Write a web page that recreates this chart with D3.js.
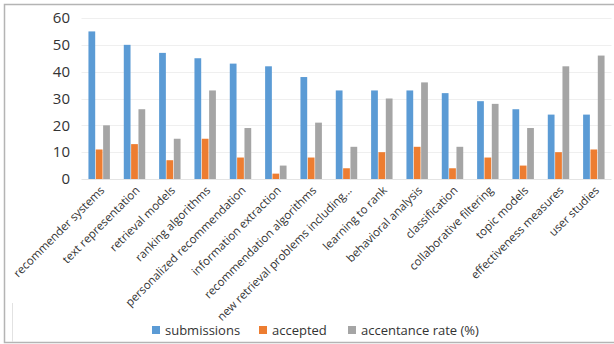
<!DOCTYPE html>
<html>
<head>
<meta charset="utf-8">
<script src="https://cdn.jsdelivr.net/npm/d3@7"></script>
<style>
  html, body { margin: 0; padding: 0; background: #fff; }
  svg { display: block; font-family: "Open Sans", "Noto Sans", sans-serif; }
</style>
</head>
<body>
<svg id="chart" width="614" height="344"></svg>
<script>
// Topic statistics: submissions, accepted papers and acceptance rate per topic
const categories = [
  "recommender systems", "text representation", "retrieval models",
  "ranking algorithms", "personalized recommendation", "information extraction",
  "recommendation algorithms", "new retrieval problems including...",
  "learning to rank", "behavioral analysis", "classification",
  "collaborative filtering", "topic models", "effectiveness measures", "user studies"
];
const submissions = [55, 50, 47, 45, 43, 42, 38, 33, 33, 33, 32, 29, 26, 24, 24];
const accepted    = [11, 13, 7, 15, 8, 2, 8, 4, 10, 12, 4, 8, 5, 10, 11];
const acceptRate  = [20, 26, 15, 33, 19, 5, 21, 12, 30, 36, 12, 28, 19, 42, 46];
const seriesNames = ["submissions", "accepted", "accentance rate (%)"];
const seriesColors = ["#5b9bd5", "#ed7d31", "#a5a5a5"];
const yTicks = [0, 10, 20, 30, 40, 50, 60];

const seriesValues = [submissions, accepted, acceptRate];
const svg = d3.select("#chart");

// Outer frame
svg.append("path")
  .attr("d", "M614,4.5 H4.5 V342.5 H614")
  .attr("fill", "none").attr("stroke", "#b4b4b4").attr("stroke-width", 1.5);
svg.append("line")
  .attr("x1", 12.5).attr("x2", 12.5).attr("y1", 303).attr("y2", 342)
  .attr("stroke", "#e2e2e2").attr("stroke-width", 1);

const plot = { left: 81.5, right: 611.5, top: 18, bottom: 179 };

const x0 = d3.scaleBand().domain(categories)
  .range([plot.left, plot.right]).paddingInner(0.36).paddingOuter(0.18);
const x1 = d3.scaleBand().domain(d3.range(seriesNames.length))
  .range([0, x0.bandwidth()]).padding(0.08);
const y = d3.scaleLinear().domain([0, 60]).range([plot.bottom, plot.top]);

// Gridlines
svg.append("g").selectAll("line").data(yTicks).join("line")
  .attr("x1", plot.left).attr("x2", plot.right)
  .attr("y1", d => Math.round(y(d)) + 0.5).attr("y2", d => Math.round(y(d)) + 0.5)
  .attr("stroke", d => d === 0 ? "#e4e4e4" : "#efefef").attr("stroke-width", 1);

// Y axis labels
const yAxis = d3.axisLeft(y).tickValues(yTicks).tickSize(0).tickPadding(0);
const gy = svg.append("g").attr("transform", "translate(70,0)").call(yAxis);
gy.select(".domain").remove();
gy.selectAll("text").attr("font-size", 15).attr("fill", "#333")
  .attr("font-family", "Open Sans, sans-serif");

// Bars
const groups = svg.append("g").selectAll("g").data(categories).join("g")
  .attr("transform", d => `translate(${x0(d)},0)`);
groups.selectAll("rect")
  .data((d, i) => seriesValues.map((vals, s) => ({ s, v: vals[i] })))
  .join("rect")
  .attr("x", d => x1(d.s))
  .attr("width", x1.bandwidth())
  .attr("y", d => y(d.v))
  .attr("height", d => y(0) - y(d.v))
  .attr("fill", d => seriesColors[d.s]);

// Category labels, rotated
const xAxis = d3.axisBottom(x0).tickSize(0).tickPadding(0);
const gx = svg.append("g").attr("transform", `translate(0,${plot.bottom})`).call(xAxis);
gx.select(".domain").remove();
gx.selectAll("text")
  .attr("font-size", 11.5).attr("fill", "#333")
  .attr("font-family", "Open Sans, sans-serif")
  .attr("text-anchor", "end")
  .attr("dy", null)
  .attr("transform", "translate(6,12) rotate(-45)");

// Legend
const legendX = [152, 259, 348];
const legend = svg.append("g").selectAll("g").data(seriesNames).join("g")
  .attr("transform", (d, i) => `translate(${legendX[i]},330)`);
legend.append("rect").attr("x", 0).attr("y", -4).attr("width", 8).attr("height", 8)
  .attr("fill", (d, i) => seriesColors[i]);
legend.append("text").attr("x", 13).attr("y", 0).attr("dy", "0.35em")
  .attr("font-size", 13).attr("fill", "#333").text(d => d);
</script>
</body>
</html>
